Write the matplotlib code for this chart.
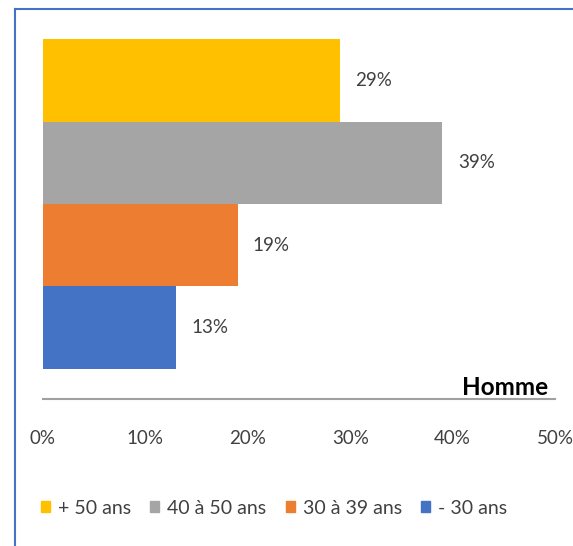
import matplotlib.pyplot as plt
from matplotlib.lines import Line2D
import matplotlib.ticker as mticker

groups = ['+ 50 ans', '40 à 50 ans', '30 à 39 ans', '- 30 ans']
values = [29, 39, 19, 13]
colors = ['#FFC000', '#A5A5A5', '#ED7D31', '#4472C4']
xticks = [0, 10, 20, 30, 40, 50]
category = 'Homme'

plt.rcParams['font.family'] = ['Lato', 'DejaVu Sans']

fig = plt.figure(figsize=(5.73, 5.46), dpi=100)
ax = fig.add_axes([43 / 573, (546 - 399) / 546, (555 - 43) / 573, 390 / 546])

# top bar first
ypos = list(range(len(values)))[::-1]
bars = ax.barh(ypos, values, height=1.0, color=colors, label=groups)
for b, v in zip(bars, values):
    ax.text(v + 1.5, b.get_y() + b.get_height() / 2, f'{v}%', va='center', ha='left',
            fontsize=13.5, color='#404040')

ax.set_xlim(0, 50)
ax.set_ylim(-0.5 - 0.364, 3.5 + 0.364)
ax.set_xticks(xticks)
ax.xaxis.set_major_formatter(mticker.FuncFormatter(lambda x, p: f'{x:.0f}%'))
ax.tick_params(axis='x', length=0, pad=22, labelsize=13.5, labelcolor='#404040')
ax.set_yticks([])
for s in ['top', 'right', 'left']:
    ax.spines[s].set_visible(False)
ax.spines['bottom'].set_color('#A0A0A0')
ax.spines['bottom'].set_linewidth(1.5)

ax.text(49.3, -0.5 - 0.364, category, ha='right', va='bottom', fontsize=17.5,
        fontweight='bold', color='black')

handles = [plt.Rectangle((0, 0), 1, 1, color=c) for c in colors]
fig.legend(handles, groups, loc='center', bbox_to_anchor=(274 / 573, (546 - 508) / 546),
           ncol=4, frameon=False, fontsize=14, handlelength=0.47, handleheight=0.47,
           handletextpad=0.4, columnspacing=1.0, labelcolor='#404040')

# chart frame (cropped)
fig.add_artist(Line2D([14.5 / 573, 14.5 / 573], [0, 1 - 8.5 / 546], color='#4472C4', lw=1.5))
fig.add_artist(Line2D([14.5 / 573, 1], [1 - 8.5 / 546, 1 - 8.5 / 546], color='#4472C4', lw=1.5))

fig.savefig('out.png', dpi=100)
